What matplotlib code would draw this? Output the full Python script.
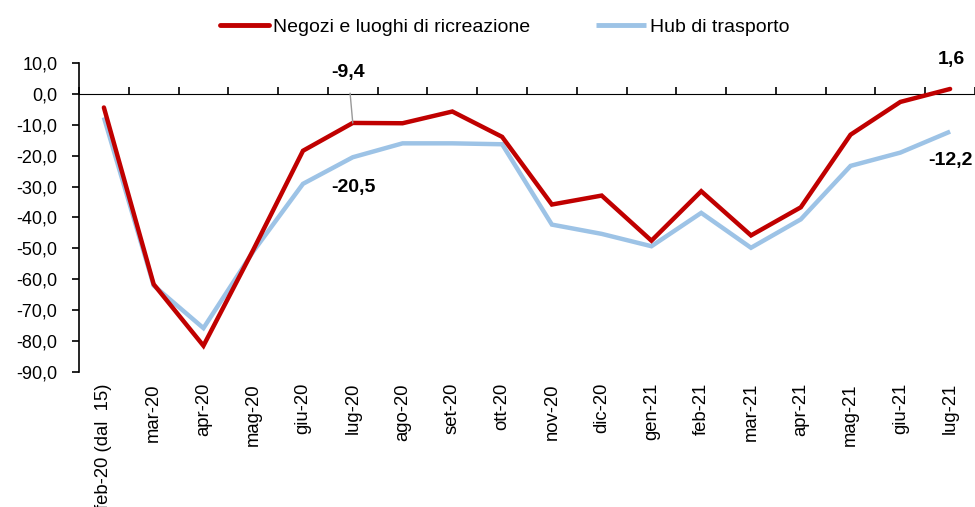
import matplotlib
matplotlib.use("Agg")
import matplotlib.pyplot as plt
import numpy as np

categories = ["feb-20 (dal  15)", "mar-20", "apr-20", "mag-20", "giu-20", "lug-20",
              "ago-20", "set-20", "ott-20", "nov-20", "dic-20", "gen-21", "feb-21",
              "mar-21", "apr-21", "mag-21", "giu-21", "lug-21"]
negozi = [-4.4, -61.6, -81.5, -50.5, -18.4, -9.4, -9.5, -5.7, -13.9, -35.8, -32.9,
          -47.5, -31.5, -45.8, -36.7, -13.2, -2.6, 1.6]
hub = [-7.6, -62.0, -75.8, -51.0, -29.1, -20.5, -16.0, -16.0, -16.3, -42.3, -45.3,
       -49.3, -38.5, -49.8, -40.6, -23.3, -19.0, -12.2]
yticks = [10, 0, -10, -20, -30, -40, -50, -60, -70, -80, -90]

plt.rcParams['font.family'] = ['Liberation Sans', 'DejaVu Sans']

fig = plt.figure(figsize=(9.75, 5.07), dpi=100)
ax = fig.add_axes([79/975, (507-372)/507, 896/975, 309/507])

x = np.arange(len(categories))
red = "#C00000"
blue = "#9DC3E6"
ax.plot(x, negozi, color=red, lw=3.2, solid_capstyle='round', solid_joinstyle='miter',
        label="Negozi e luoghi di ricreazione", zorder=3)
ax.plot(x, hub, color=blue, lw=3.2, solid_capstyle='butt', solid_joinstyle='miter',
        label="Hub di trasporto", zorder=2)

ax.set_xlim(-0.5, len(categories) - 0.5)
ax.set_ylim(-90, 10)
ax.set_yticks(yticks)
ax.set_yticklabels([f"{v:.1f}".replace(".", ",") for v in yticks], fontsize=13)
ax.tick_params(axis='y', direction='out', length=5, width=1.2, pad=10.5)

ax.set_xticks(x)
ax.set_xticklabels(categories, rotation=90, fontsize=13.3, va='top', ha='center')
ax.tick_params(axis='x', length=0, pad=8)

for s in ['top', 'right', 'bottom']:
    ax.spines[s].set_visible(False)
ax.spines['left'].set_linewidth(1.2)

# zero axis line with boundary tick marks
sec = ax.secondary_xaxis(0.9)
sec.set_xticks(np.arange(len(categories) + 1) - 0.5)
sec.set_xticklabels([])
sec.tick_params(axis='x', direction='out', length=5, width=1.2)
sec.spines['bottom'].set_linewidth(1.6)

# annotations
bold = dict(fontsize=14, fontweight='bold', ha='center', va='center')
ax.annotate("-9,4", xy=(5, negozi[5]), xytext=(-3.3, 36.5), textcoords='offset points',
            arrowprops=dict(arrowstyle='-', color='#999999', lw=1.0, shrinkA=7, shrinkB=0), **bold)
ax.annotate("-20,5", xy=(5, hub[5]), xytext=(0.5, -22), textcoords='offset points', **bold)
ax.annotate("1,6", xy=(17, negozi[17]), xytext=(1, 21), textcoords='offset points', **bold)
ax.annotate("-12,2", xy=(17, hub[17]), xytext=(0.5, -21), textcoords='offset points',
            annotation_clip=False, **bold)

leg = fig.legend(loc='center', bbox_to_anchor=(0.5175, 0.947), ncol=2, frameon=False,
                 fontsize=14, handlelength=2.55, handletextpad=0.2, columnspacing=3.4)
for line in leg.get_lines():
    line.set_linewidth(3.5)

fig.savefig("out.png", dpi=100)
